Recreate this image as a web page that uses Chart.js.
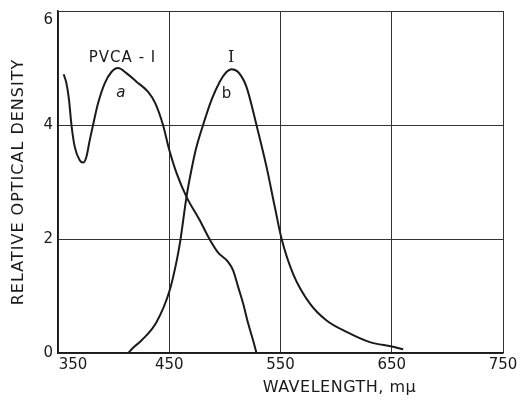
<!DOCTYPE html>
<html>
<head>
<meta charset="utf-8">
<title>Relative optical density</title>
<script src="https://cdn.jsdelivr.net/npm/chart.js@4.4.1/dist/chart.umd.min.js"></script>
<style>
  body { margin: 0; background: #fff; }
  #wrap { width: 520px; height: 402px; }
</style>
</head>
<body>
<div id="wrap"><canvas id="spectra"></canvas></div>
<script>
// curve a: PVCA-I
const waveA = [355.1, 357.6, 359.9, 362.1, 365.0, 369.5, 372.5, 375.5, 378.5, 381.5, 386.0, 392.0, 398.0, 404.0, 411.5, 420.5, 431.0, 437.5, 444.4, 449.8, 456.5, 465.5, 477.4, 486.4, 493.9, 502.9, 507.4, 511.9, 516.4, 520.9, 525.4, 528.4];
const densityA = [4.89, 4.73, 4.44, 4.00, 3.62, 3.38, 3.34, 3.44, 3.73, 4.00, 4.38, 4.73, 4.93, 5.00, 4.91, 4.76, 4.58, 4.38, 4.00, 3.58, 3.16, 2.74, 2.33, 1.99, 1.76, 1.60, 1.45, 1.16, 0.87, 0.52, 0.22, 0.00];

// curve b: I
const waveB = [413.0, 418.0, 425.0, 438.5, 450.4, 456.8, 460.1, 465.5, 470.0, 474.0, 480.4, 488.0, 495.4, 501.4, 505.9, 511.9, 519.4, 528.4, 537.4, 544.9, 550.9, 561.3, 576.3, 591.4, 609.4, 630.3, 651.3, 660.3];
const densityB = [0.00, 0.10, 0.22, 0.54, 1.10, 1.63, 1.99, 2.74, 3.22, 3.58, 4.00, 4.44, 4.76, 4.93, 4.98, 4.93, 4.67, 4.00, 3.27, 2.56, 2.01, 1.39, 0.87, 0.57, 0.37, 0.19, 0.11, 0.065];

const xTicks = [350, 450, 550, 650, 750];
const yTicks = [0, 2, 4, 6];

// text placed on the plot, in data units
const curveLabels = [
  { text: 'PVCA - I', x: 408, y: 5.17, font: '15px "DejaVu Sans"' },
  { text: 'a', x: 407, y: 4.56, font: 'italic 15px "DejaVu Sans"' },
  { text: 'I', x: 506, y: 5.17, font: '16px "DejaVu Serif"' },
  { text: 'b', x: 502, y: 4.54, font: '15px "DejaVu Sans"' }
];

const toPoints = (xs, ys) => xs.map((x, i) => ({ x: x, y: ys[i] }));

const ink = '#1a1a1a';

const labelPlugin = {
  id: 'labels',
  afterDraw(chart) {
    const ctx = chart.ctx;
    const xs = chart.scales.x, ys = chart.scales.y;
    const area = chart.chartArea;
    ctx.save();
    ctx.fillStyle = ink;
    ctx.textAlign = 'center';
    ctx.textBaseline = 'middle';
    curveLabels.forEach(l => {
      ctx.font = l.font;
      ctx.letterSpacing = '1px';
      ctx.fillText(l.text, xs.getPixelForValue(l.x), ys.getPixelForValue(l.y));
    });

    // axis titles
    ctx.font = '16px "DejaVu Sans"';
    ctx.letterSpacing = '0.5px';
    ctx.fillText('WAVELENGTH, m\u03BC', xs.getPixelForValue(603), 388);

    ctx.translate(19, (area.top + area.bottom) / 2);
    ctx.rotate(-Math.PI / 2);
    ctx.letterSpacing = '1px';
    ctx.fillText('RELATIVE OPTICAL DENSITY', 0, 0);
    ctx.restore();
  }
};

const lineStyle = {
  borderColor: ink,
  borderWidth: 2,
  pointRadius: 0,
  fill: false,
  cubicInterpolationMode: 'monotone'
};

new Chart(document.getElementById('spectra'), {
  type: 'line',
  data: {
    datasets: [
      Object.assign({ label: 'PVCA-I', data: toPoints(waveA, densityA) }, lineStyle),
      Object.assign({ label: 'I', data: toPoints(waveB, densityB) }, lineStyle)
    ]
  },
  options: {
    responsive: true,
    maintainAspectRatio: false,
    animation: false,
    layout: { padding: { left: 0, top: 11, right: 17, bottom: 0 } },
    plugins: {
      legend: { display: false },
      tooltip: { enabled: false }
    },
    scales: {
      x: {
        type: 'linear',
        min: 350,
        max: 750,
        afterBuildTicks: s => { s.ticks = xTicks.map(v => ({ value: v })); },
        afterFit: s => {
          s.height = 49;
          s.paddingLeft = 0; s.paddingRight = 0;
        },
        ticks: {
          color: ink,
          padding: 3,
          font: { family: 'DejaVu Sans', size: 15 },
          // first label sits clear of the y axis
          callback: v => v === 350 ? '\u2003\u2003350' : String(v)
        },
        grid: { color: '#333', lineWidth: 1, drawTicks: false },
        border: { color: ink, width: 1.5 }
      },
      y: {
        min: 0,
        max: 6,
        afterBuildTicks: s => { s.ticks = yTicks.map(v => ({ value: v })); },
        afterFit: s => {
          s.width = 58;
          s.paddingTop = 0; s.paddingBottom = 0;
        },
        ticks: {
          color: ink,
          padding: 5,
          font: { family: 'DejaVu Sans', size: 15 },
          callback: v => v === 6 ? ['', '6'] : String(v)
        },
        grid: { color: '#333', lineWidth: 1, drawTicks: false },
        border: { color: ink, width: 1.5 }
      }
    }
  },
  plugins: [labelPlugin]
});
</script>
</body>
</html>
